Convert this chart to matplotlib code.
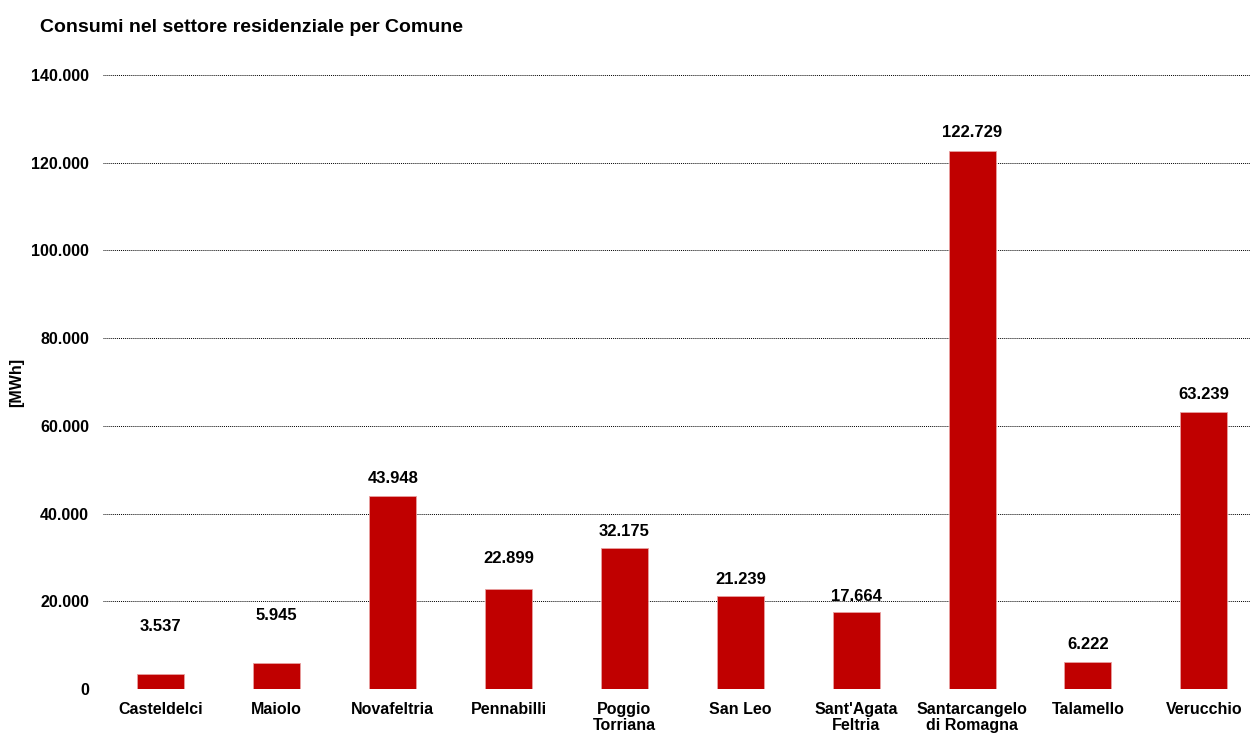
import matplotlib.pyplot as plt
import numpy as np

comuni = ["Casteldelci", "Maiolo", "Novafeltria", "Pennabilli", "Poggio\nTorriana",
          "San Leo", "Sant'Agata\nFeltria", "Santarcangelo\ndi Romagna", "Talamello", "Verucchio"]
consumi = [3537, 5945, 43948, 22899, 32175, 21239, 17664, 122729, 6222, 63239]
y_ticks = [0, 20000, 40000, 60000, 80000, 100000, 120000, 140000]

# distanza etichetta-barra in pixel
offset_px = [47, 47, 18, 30, 16, 16, 15, 18, 17, 17]

plt.rcParams['font.family'] = ['Liberation Sans', 'DejaVu Sans']
plt.rcParams['font.weight'] = 'bold'

fig = plt.figure(figsize=(12.5, 7.33), dpi=100)
ax = fig.add_axes([0.0824, 0.06, 0.927, 0.8377])

x = np.arange(len(comuni))
ax.bar(x, consumi, width=0.405, color="#C00000", edgecolor="#E8A0A0", linewidth=0.6, zorder=3)

ax.set_xlim(-0.5, len(comuni) - 0.5)
ax.set_ylim(0, 140000)
ax.set_yticks(y_ticks)
ax.set_yticklabels([f"{v:,}".replace(",", ".") for v in y_ticks], fontsize=11.5, fontweight="bold")
ax.set_xticks(x)
ax.set_xticklabels(comuni, fontsize=11.5, fontweight="bold", linespacing=1.15)
ax.tick_params(axis="y", length=0, pad=10)
ax.tick_params(axis="x", length=0, pad=9)

ax.grid(axis="y", linestyle=(0, (1, 1)), color="black", linewidth=0.7, zorder=0)
for s in ax.spines.values():
    s.set_visible(False)

for xi, v, off in zip(x, consumi, offset_px):
    ax.annotate(f"{v:,}".replace(",", "."), xy=(xi, v), xytext=(0, off * 0.72),
                textcoords="offset points", ha="center", va="center",
                fontsize=12, fontweight="bold")

ax.set_ylabel("[MWh]", fontsize=11.5, fontweight="bold", labelpad=5)
fig.text(0.032, 0.962, "Consumi nel settore residenziale per Comune",
         fontsize=14, fontweight="bold", va="center")

fig.savefig("out.png", dpi=100)
